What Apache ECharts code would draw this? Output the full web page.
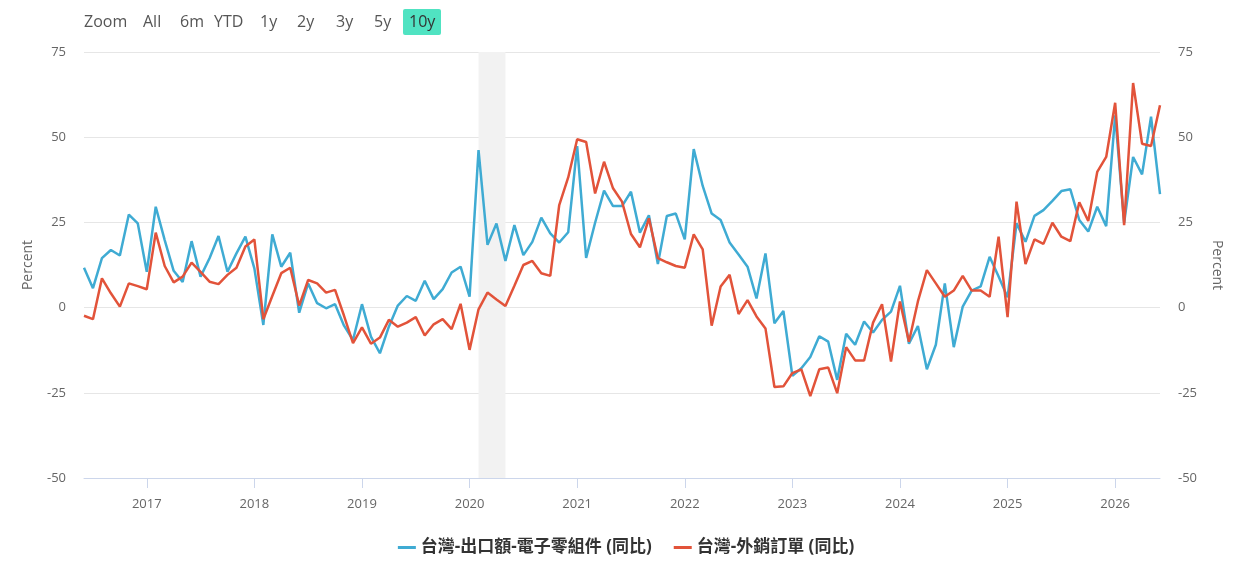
<!DOCTYPE html>
<html>
<head>
<meta charset="utf-8">
<script src="https://cdn.jsdelivr.net/npm/echarts@6/dist/echarts.min.js"></script>
<style>
html,body{margin:0;padding:0;background:#fff;}
#c{width:1252px;height:570px;}
</style>
</head>
<body>
<div id="c"></div>
<script>
// Monthly, 2016-06 .. 2026-06
const startYear = 2016, startMonth = 6, monthCount = 121;
const categories = [];
for (let i = 0; i < monthCount; i++) {
  const m = startMonth - 1 + i;
  const y = startYear + Math.floor(m / 12);
  const mm = (m % 12) + 1;
  categories.push(y + '-' + (mm < 10 ? '0' + mm : mm));
}

const seriesNames = ['台灣-出口額-電子零組件 (同比)', '台灣-外銷訂單 (同比)'];

const electronicsExports = [
  11.7, 5.7, 14.5, 16.9, 15.3, 27.3, 24.7,
  10.5, 29.6, 19.8, 10.8, 7.5, 19.5, 9.1, 14.5, 21.0, 10.5, 15.9, 20.8,
  11.5, -5.1, 21.5, 12.0, 16.1, -1.5, 7.1, 1.3, -0.2, 1.0, -5.3, -9.5,
  1.0, -8.5, -13.4, -5.6, 0.6, 3.4, 2.0, 7.9, 2.5, 5.4, 10.3, 12.0,
  3.2, 46.2, 18.4, 24.7, 13.7, 24.2, 15.4, 19.3, 26.4, 21.8, 19.1, 22.1,
  47.4, 14.6, 24.9, 34.3, 29.8, 29.8, 34.0, 22.0, 27.1, 12.8, 26.9, 27.6,
  20.0, 46.5, 35.7, 27.6, 25.7, 19.1, 15.6, 12.0, 2.7, 15.9, -4.6, -1.0,
  -20.0, -17.8, -14.5, -8.4, -10.0, -21.2, -7.7, -10.9, -4.1, -7.3, -3.6, -1.2,
  6.4, -10.6, -5.4, -18.1, -10.9, 7.1, -11.6, 0.3, 5.0, 6.2, 14.9, 9.1,
  3.0, 24.7, 19.3, 26.9, 28.6, 31.3, 34.2, 34.7, 25.7, 22.3, 29.6, 23.9,
  56.4, 24.9, 44.2, 39.1, 56.0, 33.3
];

const exportOrders = [
  -2.4, -3.4, 8.6, 4.2, 0.3, 7.1, 6.3,
  5.4, 22.0, 12.2, 7.4, 9.1, 13.2, 10.5, 7.6, 6.9, 9.6, 11.7, 17.9,
  20.0, -3.4, 3.4, 10.1, 11.7, 0.6, 8.1, 7.1, 4.4, 5.2, -2.4, -10.4,
  -5.8, -10.6, -8.8, -3.6, -5.6, -4.4, -2.8, -8.2, -4.9, -3.4, -6.3, 1.1,
  -12.4, -0.5, 4.4, 2.4, 0.5, 6.4, 12.5, 13.7, 10.1, 9.3, 30.1, 38.2,
  49.4, 48.6, 33.5, 42.8, 35.0, 31.1, 21.6, 17.7, 26.2, 14.5, 13.3, 12.2,
  11.7, 21.5, 17.1, -5.3, 6.2, 9.6, -1.9, 2.2, -2.6, -6.1, -23.3, -23.1,
  -19.2, -18.1, -26.0, -18.1, -17.6, -25.1, -11.6, -15.5, -15.5, -4.4, 1.0, -15.8,
  1.8, -10.0, 1.8, 11.0, 7.1, 3.2, 5.0, 9.3, 5.0, 5.0, 3.2, 20.8,
  -2.8, 31.1, 12.8, 20.0, 18.7, 24.9, 20.8, 19.5, 30.9, 25.4, 39.8, 44.2,
  60.1, 24.2, 65.9, 48.1, 47.4, 59.4
];

const shadedPeriod = ['2020-02', '2020-05'];
const rangeButtons = ['All', '6m', 'YTD', '1y', '2y', '3y', '5y', '10y'];
const yMin = -50, yMax = 75, yStep = 25;

const FONT = '"Open Sans", "Noto Sans CJK TC", sans-serif';
const chart = echarts.init(document.getElementById('c'));

const btnX = [143, 180, 214, 260, 297, 336, 374, 409];
const graphics = [
  { type: 'text', left: 84, top: 14, style: { text: 'Zoom', font: '16px ' + FONT, fill: '#555' } }
];
rangeButtons.forEach((b, i) => {
  if (b === '10y') {
    graphics.push({ type: 'rect', shape: { x: 403, y: 9, width: 38, height: 26, r: 2 }, style: { fill: '#50e3c2' } });
  }
  graphics.push({ type: 'text', left: btnX[i], top: 14, style: { text: b, font: '16px ' + FONT, fill: b === '10y' ? '#333' : '#555' } });
});

const yAxisCommon = {
  type: 'value', min: yMin, max: yMax, interval: yStep,
  name: 'Percent', nameLocation: 'middle',
  nameTextStyle: { color: '#666', fontSize: 14, fontFamily: FONT },
  axisLine: { show: false }, axisTick: { show: false },
  axisLabel: { color: '#666', fontSize: 13, fontFamily: FONT, margin: 18 }
};

chart.setOption({
  animation: false,
  textStyle: { fontFamily: FONT },
  graphic: graphics,
  grid: { left: 84, right: 92, top: 52, bottom: 92 },
  legend: {
    bottom: 9, left: 'center', itemGap: 22,
    icon: 'rect', itemWidth: 18, itemHeight: 3,
    textStyle: { color: '#333', fontSize: 17, fontWeight: 'bold', fontFamily: FONT },
    data: seriesNames
  },
  xAxis: {
    type: 'category', data: categories, boundaryGap: false,
    axisLine: { onZero: false, lineStyle: { color: '#ccd6eb' } },
    axisTick: { length: 10, lineStyle: { color: '#ccd6eb' }, interval: (i, v) => v.slice(5) === '01' },
    axisLabel: {
      color: '#666', fontSize: 13, fontFamily: FONT, margin: 20,
      interval: (i, v) => v.slice(5) === '01',
      formatter: v => v.slice(0, 4)
    },
    splitLine: { show: false }
  },
  yAxis: [
    Object.assign({}, yAxisCommon, { position: 'left', nameGap: 49, splitLine: { lineStyle: { color: '#e6e6e6' } } }),
    Object.assign({}, yAxisCommon, { position: 'right', nameGap: 50, nameRotate: -90, splitLine: { show: false } })
  ],
  series: [
    {
      name: seriesNames[0], type: 'line', data: electronicsExports, yAxisIndex: 0,
      symbol: 'none', lineStyle: { width: 2.5, color: '#3fabd3' }, itemStyle: { color: '#3fabd3' },
      markArea: {
        silent: true,
        itemStyle: { color: '#f2f2f2' },
        data: [[{ xAxis: shadedPeriod[0] }, { xAxis: shadedPeriod[1] }]]
      },
      z: 3
    },
    {
      name: seriesNames[1], type: 'line', data: exportOrders, yAxisIndex: 0,
      symbol: 'none', lineStyle: { width: 2.5, color: '#e2533a' }, itemStyle: { color: '#e2533a' },
      z: 4
    }
  ]
});
</script>
</body>
</html>
